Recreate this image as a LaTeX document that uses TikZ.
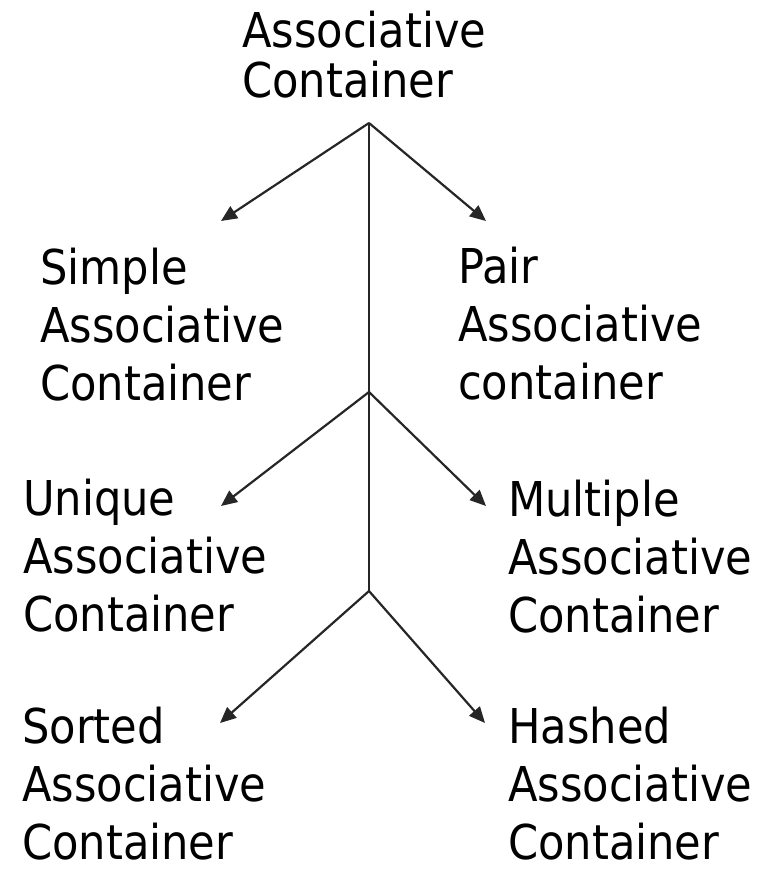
\documentclass[tikz,border=0pt]{standalone}
\usepackage{fontspec}
\setmainfont{DejaVu Sans Condensed}
\usetikzlibrary{arrows.meta}
\begin{document}
\begin{tikzpicture}[x=1pt,y=-1pt,
  lbl/.style={inner sep=0pt, anchor=base west, align=left, text depth=0pt, font=\fontsize{48}{58}\selectfont},
  toplbl/.style={lbl, font=\fontsize{48}{50}\selectfont},
  conn/.style={line width=2.2pt, black!85},
  arr/.style={conn, -{Triangle[length=16pt,width=14pt]}}]
\useasboundingbox (0,0) rectangle (769,871);
% text nodes (anchor = baseline of last line)
\node[toplbl] (root) at (242,97) {Associative\\Container};
\node[lbl] (simple) at (40,400) {Simple\\Associative\\Container};
\node[lbl] (pair) at (458,399) {Pair\\Associative\\container};
\node[lbl] (unique) at (23,631) {Unique\\Associative\\Container};
\node[lbl] (multiple) at (508,632) {Multiple\\Associative\\Container};
\node[lbl] (sorted) at (22,859) {Sorted\\Associative\\Container};
\node[lbl] (hashed) at (508,859) {Hashed\\Associative\\Container};
% branch points and arrow ends
\coordinate (b1) at (369,123);
\coordinate (b2) at (369,392);
\coordinate (b3) at (369,591);
\coordinate (t1l) at (221,221);
\coordinate (t1r) at (486,221);
\coordinate (t2l) at (221,506);
\coordinate (t2r) at (486,506);
\coordinate (t3l) at (220,723);
\coordinate (t3r) at (485,723);
% connectors
\draw[conn] (b1) -- (b2) -- (b3);
\draw[arr] (b1) -- (t1l);
\draw[arr] (b1) -- (t1r);
\draw[arr] (b2) -- (t2l);
\draw[arr] (b2) -- (t2r);
\draw[arr] (b3) -- (t3l);
\draw[arr] (b3) -- (t3r);
\end{tikzpicture}
\end{document}
